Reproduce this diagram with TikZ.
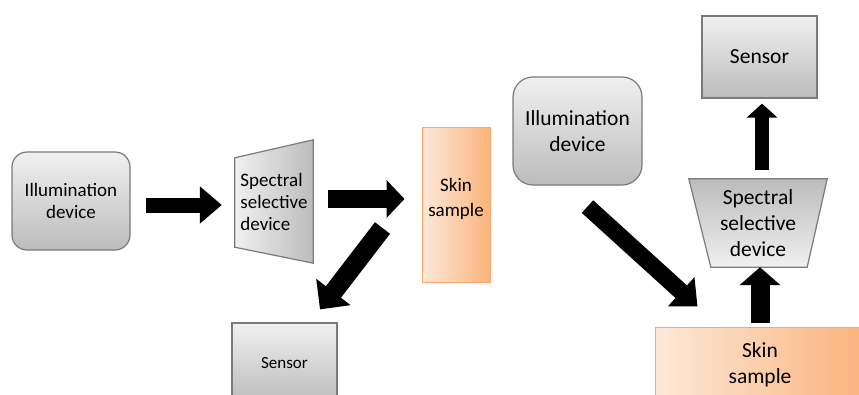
\documentclass[tikz,border=0pt]{standalone}
\usepackage{fontspec}
\setmainfont{Carlito}
\usetikzlibrary{positioning,calc,arrows.meta,backgrounds}
\usepackage{xcolor}
\definecolor{boxline}{HTML}{7A7A7A}
\definecolor{greytop}{HTML}{F0F0F0}
\definecolor{greybot}{HTML}{BCBCBC}
\definecolor{skinlight}{HTML}{FDE9D9}
\definecolor{skindark}{HTML}{FAB37C}
\definecolor{skinline}{HTML}{F9A66C}
\tikzset{
box/.style={draw=boxline,line width=1.2pt,top color=greytop,bottom color=greybot,align=center,inner sep=0pt},
lamp/.style={box,rounded corners=15pt},
skin/.style={draw=skinline,line width=1pt,left color=skinlight,right color=skindark,align=center,inner sep=0pt},
filter/.style={inner sep=0pt,align=center},
blockarrow/.style n args={3}{line width=#1pt,-{Triangle[width=#2pt,length=#3pt]}},
small/.style={font=\fontsize{17}{20}\selectfont},
mid/.style={font=\fontsize{19}{22}\selectfont},
big/.style={font=\fontsize{21.5}{26}\selectfont}
}

\begin{document}
\begin{tikzpicture}[x=1pt,y=-1pt]
    \useasboundingbox (0,0) rectangle (859,394);
    \clip (0,0) rectangle (859,394);

    % left: light passes the filter before the skin
    \node [lamp,mid,minimum width=118pt,minimum height=98pt] (illumL) at (71,201) {Illumination\\device};
    \node [filter,mid,align=left,minimum width=78pt,minimum height=123pt] (specL) at (274,201.5) {Spectral\\selective\\device};
    \node [skin,font=\fontsize{19}{25}\selectfont,minimum width=68pt,minimum height=155pt] (skinL) at (456,205) {Skin\\sample\\[-10pt]};
    \node [box,small,minimum width=105pt,minimum height=80pt] (sensorL) at (284.5,363) {Sensor};

    % right: filter between skin and sensor
    \node [lamp,big,rounded corners=20pt,minimum width=129pt,minimum height=108pt] (illumR) at (577.5,131) {Illumination\\device};
    \node [box,big,minimum width=115pt,minimum height=82pt] (sensorR) at (759.5,57) {Sensor};
    \node [filter,big,minimum width=138pt,minimum height=88pt] (specR) at (758,223) {Spectral\\selective\\device};
    \node [skin,big,minimum width=210pt,minimum height=76pt] (skinR) at (760,365) {Skin\\sample};

    \begin{scope}[on background layer]
        \path [box,left color=greytop,right color=greybot] ($(specL.north west)+(0,18)$) -- (specL.north east) -- (specL.south east) -- ($(specL.south west)+(0,-16)$) -- cycle;
        \path [box,top color=greybot,bottom color=greytop] (specR.north west) -- (specR.north east) -- ($(specR.south east)+(-20,0)$) -- ($(specR.south west)+(22,0)$) -- cycle;
    \end{scope}

    \draw [blockarrow={15}{36}{22}] ($(illumL.east)+(15,4)$) -- ($(specL.west)+(-13,3.5)$);
    \draw [blockarrow={18}{37}{18}] ($(specL.east)+(15,-2.5)$) -- ($(skinL.west)+(-17,-6)$);
    \draw [blockarrow={19}{42}{22}] ($(skinL.west)+(-39,23)$) -- ($(sensorL.north)+(35.5,-13)$);

    \draw [blockarrow={17}{38}{22}] ($(illumR.south)+(10,21)$) -- ($(skinR.north west)+(43,-20)$);
    \draw [blockarrow={19}{40}{18}] ($(skinR.north)+(0,-4)$) -- ($(specR.south)+(2,0)$);
    \draw [blockarrow={14}{30}{14}] ($(specR.north)+(4,-9)$) -- ($(sensorR.south)+(2.5,5)$);
\end{tikzpicture}
\end{document}
